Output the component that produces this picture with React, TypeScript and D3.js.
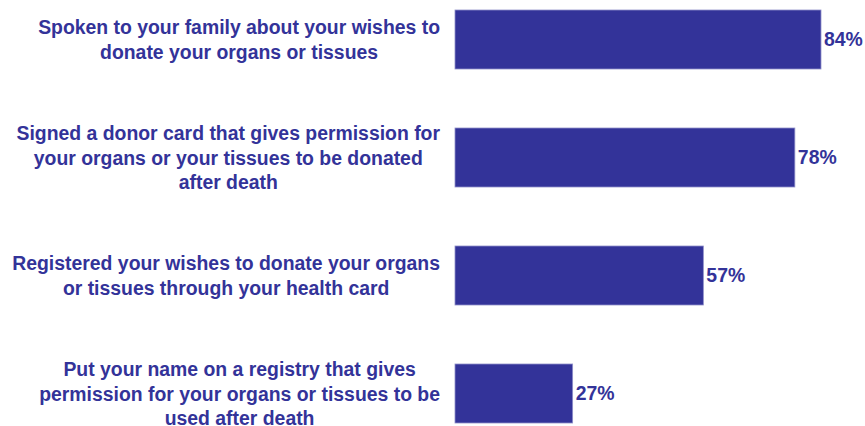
import React from 'react';
import * as d3 from 'd3';

const width = 865;
const height = 426;
const color = '#333399';

const categories = [
  ['Spoken to your family about your wishes to', 'donate your organs or tissues'],
  ['Signed a donor card that gives permission for', 'your organs or your tissues to be donated', 'after death'],
  ['Registered your wishes to donate your organs', 'or tissues through your health card'],
  ['Put your name on a registry that gives', 'permission for your organs or tissues to be', 'used after death'],
];
const values = [84, 78, 57, 27];
const valueLabels = ['84%', '78%', '57%', '27%'];

const barLeft = 455;
const labelCenter = 240;
const labelRight = 440;
const lineHeight = 24.7;
const fontSize = 19.4;
const fontFamily = "'Liberation Sans', Arial, sans-serif";

// measure text so a block wider than its box is pushed left to keep its right edge
const measureCtx = document.createElement('canvas').getContext('2d')!;
measureCtx.font = `bold ${fontSize}px ${fontFamily}`;
const blockCenter = (lines: string[]) => {
  const maxW = d3.max(lines, l => measureCtx.measureText(l).width) ?? 0;
  return Math.min(labelCenter, labelRight - maxW / 2);
};

const x = d3.scaleLinear().domain([0, 100]).range([barLeft, barLeft + 435.7]);
const y = d3.scaleBand<number>()
  .domain(d3.range(values.length))
  .range([10, 423])
  .paddingInner(0.5)
  .paddingOuter(0);

const App = () => (
  <svg
    width={width}
    height={height}
    style={{ position: 'absolute', left: 0, top: 0, background: 'white' }}
    fontFamily={fontFamily}
    fontWeight="bold"
  >
    {values.map((v, i) => {
      const y0 = y(i)!;
      const bh = y.bandwidth();
      const cy = y0 + bh / 2;
      const lines = categories[i];
      const startY = cy - ((lines.length - 1) * lineHeight) / 2 + 0.5;
      const cx = blockCenter(lines);
      return (
        <g key={i}>
          <rect
            x={x(0)}
            y={y0}
            width={x(v) - x(0)}
            height={bh}
            fill={color}
            stroke="#8f8fc9"
            strokeWidth={0.8}
          />
          <text
            x={x(v) + 3}
            y={cy}
            dy="0.35em"
            fill={color}
            fontSize={fontSize}
          >
            {valueLabels[i]}
          </text>
          <text fill={color} fontSize={fontSize} textAnchor="middle">
            {lines.map((l, j) => (
              <tspan key={j} x={cx} y={startY + j * lineHeight} dy="0.35em">
                {l}
              </tspan>
            ))}
          </text>
        </g>
      );
    })}
  </svg>
);

export default App;
